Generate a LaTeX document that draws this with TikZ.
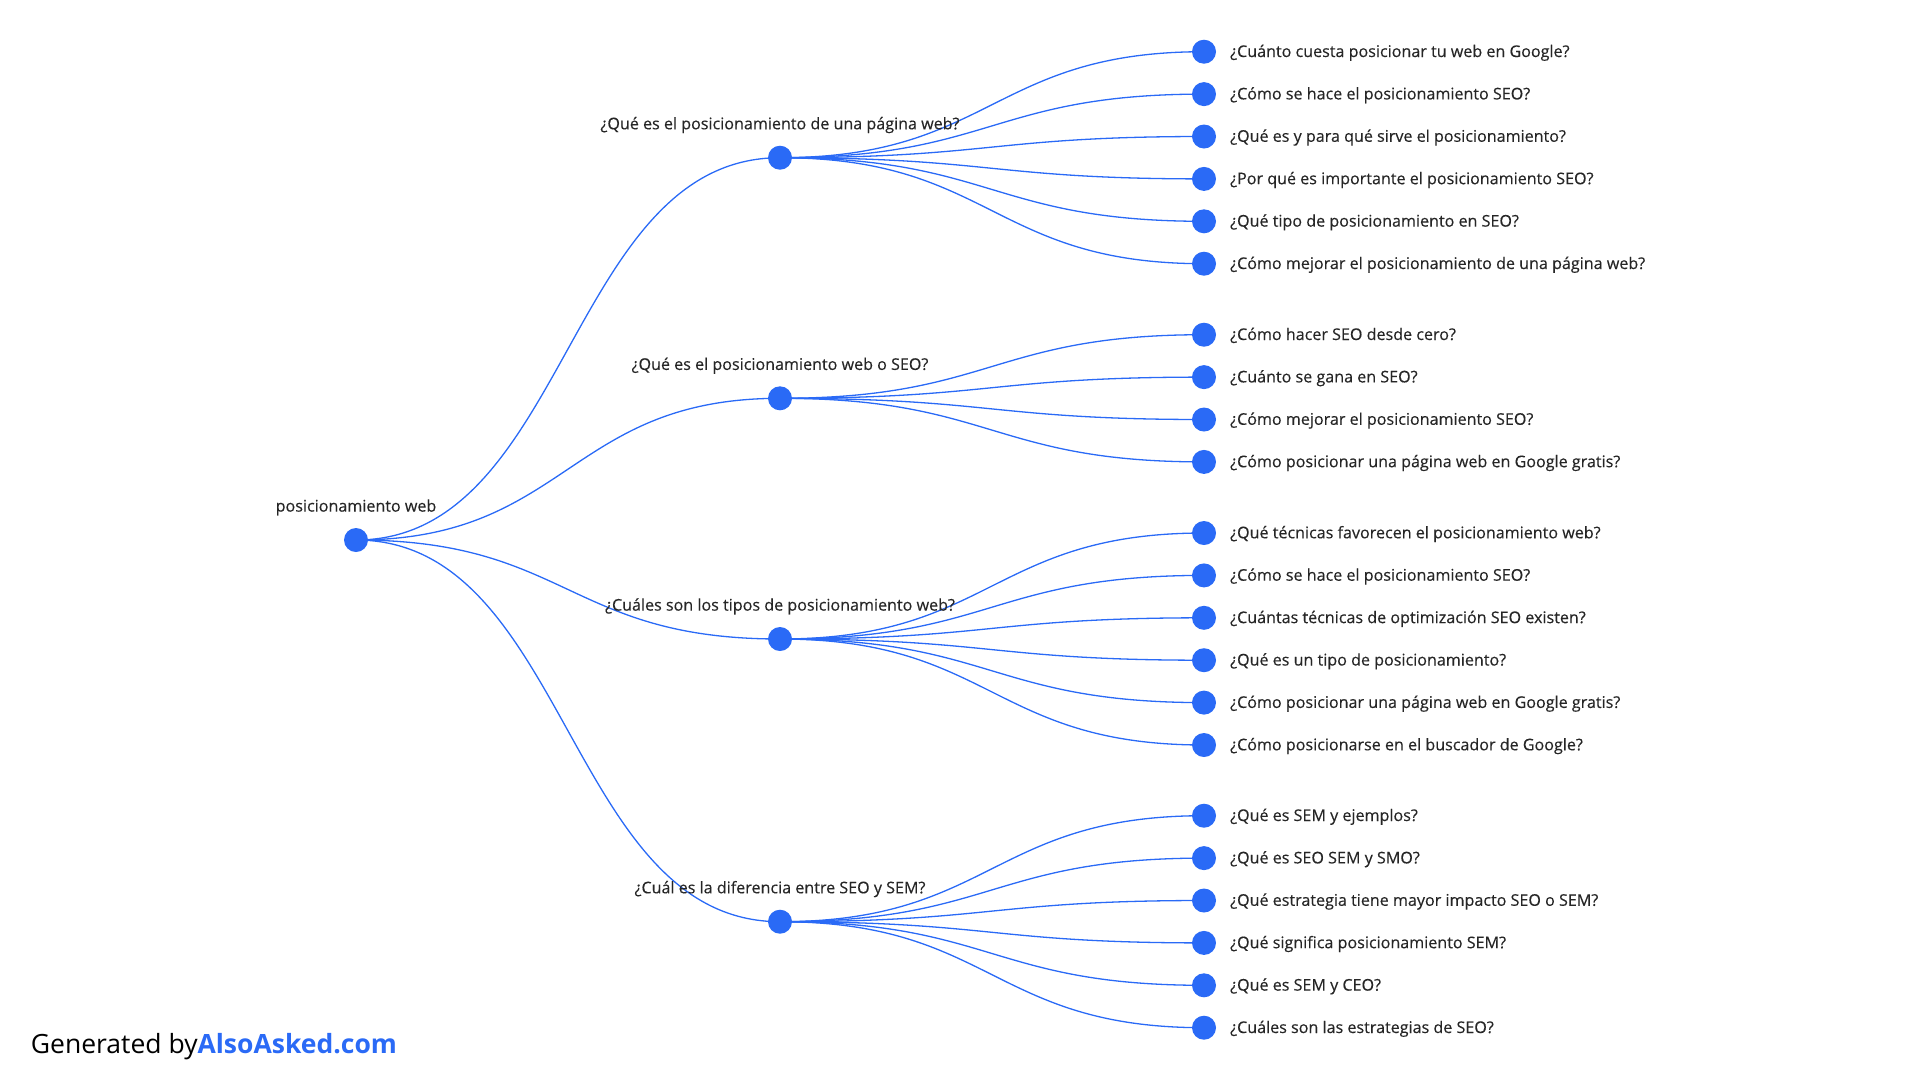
\documentclass[tikz,border=0pt]{standalone}
\usepackage{fontspec}
\setmainfont{Open Sans}
\newfontfamily\lblfont{Open Sans}[FakeBold=0.3]
\usetikzlibrary{backgrounds}
\definecolor{dotblue}{HTML}{2A6AF6}
\definecolor{txt}{HTML}{262626}
\begin{document}
\begin{tikzpicture}[x=1pt,y=-1pt,
  dot/.style={circle,fill=dotblue,minimum size=24pt,inner sep=0pt},
  link/.style={draw=dotblue,line width=1.3pt},
  leaftext/.style={anchor=base west,text=txt,inner sep=0pt,font=\lblfont\fontsize{16.1}{19}\selectfont},
  midtext/.style={anchor=base,text=txt,inner sep=0pt,font=\lblfont\fontsize{16.1}{19}\selectfont}]
\useasboundingbox (0,0) rectangle (1920,1080);
% root
\node[dot] (r) at (356,540) {};
\node[midtext] (rt) at (356,511.6) {posicionamiento web};
% mid level
\node[dot] (m1) at (780,157.7) {};
\node[midtext] (m1t) at (780,129.3) {¿Qué es el posicionamiento de una página web?};
\node[dot] (m2) at (780,398.3) {};
\node[midtext] (m2t) at (780,369.9) {¿Qué es el posicionamiento web o SEO?};
\node[dot] (m3) at (780,639) {};
\node[midtext] (m3t) at (780,610.6) {¿Cuáles son los tipos de posicionamiento web?};
\node[dot] (m4) at (780,921.7) {};
\node[midtext] (m4t) at (780,893.3) {¿Cuál es la diferencia entre SEO y SEM?};
% leaves group 1
\foreach \t [count=\i] in {¿Cuánto cuesta posicionar tu web en Google?,¿Cómo se hace el posicionamiento SEO?,¿Qué es y para qué sirve el posicionamiento?,¿Por qué es importante el posicionamiento SEO?,¿Qué tipo de posicionamiento en SEO?,¿Cómo mejorar el posicionamiento de una página web?}{
  \node[dot] (l1-\i) at (1204,{157.7+(\i-3.5)*42.4}) {};
  \node[leaftext] (l1t-\i) at (1230,{157.7+(\i-3.5)*42.4+5.3}) {\t};
}
% leaves group 2
\foreach \t [count=\i] in {¿Cómo hacer SEO desde cero?,¿Cuánto se gana en SEO?,¿Cómo mejorar el posicionamiento SEO?,¿Cómo posicionar una página web en Google gratis?}{
  \node[dot] (l2-\i) at (1204,{398.3+(\i-2.5)*42.4}) {};
  \node[leaftext] (l2t-\i) at (1230,{398.3+(\i-2.5)*42.4+5.3}) {\t};
}
% leaves group 3
\foreach \t [count=\i] in {¿Qué técnicas favorecen el posicionamiento web?,¿Cómo se hace el posicionamiento SEO?,¿Cuántas técnicas de optimización SEO existen?,¿Qué es un tipo de posicionamiento?,¿Cómo posicionar una página web en Google gratis?,¿Cómo posicionarse en el buscador de Google?}{
  \node[dot] (l3-\i) at (1204,{639+(\i-3.5)*42.4}) {};
  \node[leaftext] (l3t-\i) at (1230,{639+(\i-3.5)*42.4+5.3}) {\t};
}
% leaves group 4
\foreach \t [count=\i] in {¿Qué es SEM y ejemplos?,¿Qué es SEO SEM y SMO?,¿Qué estrategia tiene mayor impacto SEO o SEM?,¿Qué significa posicionamiento SEM?,¿Qué es SEM y CEO?,¿Cuáles son las estrategias de SEO?}{
  \node[dot] (l4-\i) at (1204,{921.7+(\i-3.5)*42.4}) {};
  \node[leaftext] (l4t-\i) at (1230,{921.7+(\i-3.5)*42.4+5.3}) {\t};
}
% connectors
\begin{pgfonlayer}{background}
  \foreach \m in {1,2,3,4}{
    \draw[link] (r.center) .. controls +(212,0) and +(-212,0) .. (m\m.center);
  }
  \foreach \i in {1,...,6}{
    \draw[link] (m1.center) .. controls +(212,0) and +(-212,0) .. (l1-\i.center);
    \draw[link] (m3.center) .. controls +(212,0) and +(-212,0) .. (l3-\i.center);
    \draw[link] (m4.center) .. controls +(212,0) and +(-212,0) .. (l4-\i.center);
  }
  \foreach \i in {1,...,4}{
    \draw[link] (m2.center) .. controls +(212,0) and +(-212,0) .. (l2-\i.center);
  }
\end{pgfonlayer}
% footer
\node[anchor=base west,inner sep=0pt,font=\fontsize{26.5}{32}\selectfont] (gen) at (30.7,1053) {Generated by\textcolor{dotblue}{\bfseries AlsoAsked.com}};
\end{tikzpicture}
\end{document}
